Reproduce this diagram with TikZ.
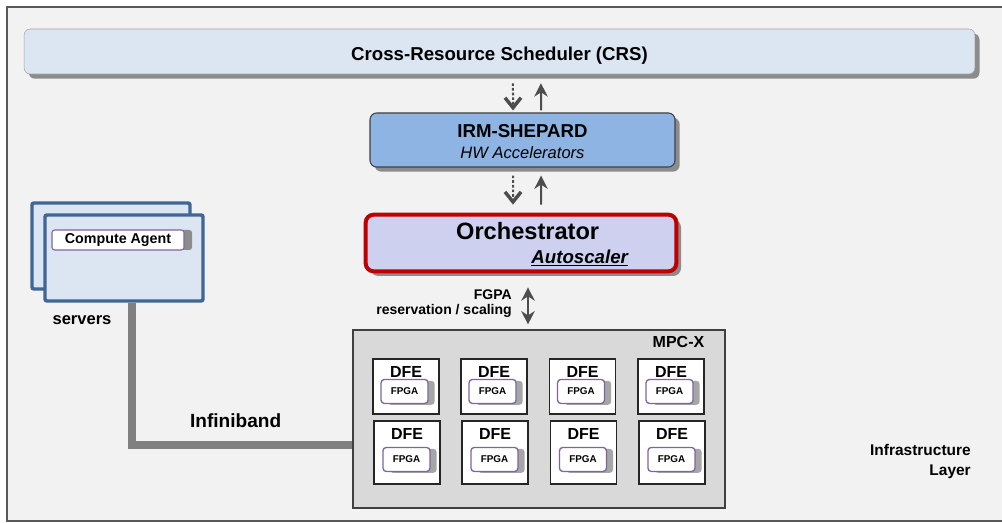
\documentclass[tikz,border=0pt]{standalone}
\usepackage{fontspec}
\setmainfont{Liberation Sans}
\usetikzlibrary{arrows.meta,shadows}
\definecolor{bggray}{HTML}{F2F2F2}
\definecolor{framegray}{HTML}{595959}
\definecolor{crsfill}{HTML}{DCE6F2}
\definecolor{crsline}{HTML}{A6A6A6}
\definecolor{shadowgray}{HTML}{8C8C8C}
\definecolor{irmfill}{HTML}{8DB4E2}
\definecolor{orchfill}{HTML}{CDD0EE}
\definecolor{orchred}{HTML}{C00000}
\definecolor{mpcfill}{HTML}{D9D9D9}
\definecolor{darkline}{HTML}{404040}
\definecolor{fpgapurple}{HTML}{8064A2}
\definecolor{srvblue}{HTML}{3F6695}
\definecolor{arrowgray}{HTML}{4D4D4D}
\definecolor{cablegray}{HTML}{808080}

\begin{document}
\begin{tikzpicture}[x=.75pt,y=-.75pt,
  lbl/.style={inner sep=0pt,font=\bfseries},
  shade/.style={drop shadow={shadow xshift=3.5pt,shadow yshift=-3.5pt,fill=shadowgray,opacity=1}},
  dnarr/.style={draw=arrowgray,line width=1.5pt,dash pattern=on 2pt off 1.5pt,
    -{Straight Barb[length=7.5pt,width=12pt,line width=2.6pt]}},
  uparr/.style={draw=arrowgray,line width=1.5pt,-{Stealth[length=10pt,width=10pt]}},
  dfebox/.style={draw=black!85,fill=white,line width=.8pt,minimum width=49.5pt},
  fpgabox/.style={draw=fpgapurple,fill=white,line width=1pt,rounded corners=2.5pt,
    minimum width=35.25pt,minimum height=18pt,inner sep=0pt,
    font=\bfseries\fontsize{7.4}{8}\selectfont,
    drop shadow={shadow xshift=5pt,shadow yshift=-1pt,fill=black!35,opacity=1}},
  srvbox/.style={draw=srvblue,fill=crsfill,line width=2.6pt,rounded corners=1.5pt,
    minimum width=118.5pt,minimum height=64.5pt}]
  \path[fill=white,use as bounding box] (0,0) rectangle (1002,523);
  % outer layer frame
  \fill[bggray] (7,7) rectangle (1002,521);
  \draw[framegray,line width=.9pt] (1002,7) -- (7,7) -- (7,521) -- (1002,521);

  % scheduler, shepard, orchestrator
  \node[draw=crsline,fill=crsfill,rounded corners=4.5pt,shade,
    minimum width=713pt,minimum height=33.75pt,text height=16pt,text depth=3pt,
    font=\bfseries\fontsize{14}{16}\selectfont] (crs) at (499.5,51.5)
    {Cross-Resource Scheduler (CRS)};
  \node[draw=darkline,fill=irmfill,rounded corners=5pt,shade,line width=.8pt,
    minimum width=228.75pt,minimum height=40.5pt] (irm) at (522.5,140) {};
  \node[lbl,font=\bfseries\fontsize{14}{16}\selectfont] (irmtitle)
    at ([yshift=6.75pt]irm.center) {IRM-SHEPARD};
  \node[lbl,font=\itshape\fontsize{12.4}{14}\selectfont] (irmsub)
    at ([yshift=-9.75pt]irm.center) {HW Accelerators};
  \node[draw=orchred,fill=orchfill,rounded corners=6pt,shade,line width=3pt,
    minimum width=233pt,minimum height=42.5pt] (orch) at (521,243) {};
  \node[lbl,font=\bfseries\fontsize{17.7}{20}\selectfont] (orchtitle)
    at ([xshift=5pt,yshift=9pt]orch.center) {Orchestrator};
  \node[lbl,font=\bfseries\itshape\fontsize{14}{16}\selectfont] (autosc)
    at ([xshift=44pt,yshift=-11pt]orch.center) {\underline{Autoscaler}};

  \draw[dnarr] ([xshift=10.1pt,yshift=-6.75pt]crs.south) -- ([xshift=-7.1pt,yshift=1.5pt]irm.north);
  \draw[uparr] ([xshift=13.9pt,yshift=1.5pt]irm.north) -- ([xshift=31.1pt,yshift=-6.75pt]crs.south);
  \draw[dnarr] ([xshift=-7.1pt,yshift=-6pt]irm.south) -- ([xshift=-6pt,yshift=6pt]orch.north);
  \draw[uparr] ([xshift=15pt,yshift=6pt]orch.north) -- ([xshift=13.9pt,yshift=-6pt]irm.south);

  % MPC-X with the DFEs
  \node[draw=darkline,fill=mpcfill,line width=.8pt,minimum width=279pt,
    minimum height=133.5pt] (mpcx) at (539,419) {};
  \node[lbl,anchor=north east,font=\bfseries\fontsize{12}{14}\selectfont] (mpcxlabel)
    at ([xshift=-15.75pt,yshift=-5.25pt]mpcx.north east) {MPC-X};
  \foreach \x [count=\i] in {406,494,582.5,671} {
    \node[dfebox,minimum height=41.25pt] (dfea\i) at (\x,386.5) {};
    \node[lbl,font=\bfseries\fontsize{12}{14}\selectfont] (dfelaba\i)
      at ([yshift=-10.5pt]dfea\i.north) {DFE};
    \node[fpgabox] (fpgaa\i) at ([xshift=-1.1pt,yshift=-24.75pt]dfea\i.north) {FPGA};
    \node[dfebox,minimum height=47.25pt] (dfeb\i) at (\x+1,452.5) {};
    \node[lbl,font=\bfseries\fontsize{12}{14}\selectfont] (dfelabb\i)
      at ([yshift=-10pt]dfeb\i.north) {DFE};
    \node[fpgabox] (fpgab\i) at ([xshift=-.4pt,yshift=-29.25pt]dfeb\i.north) {FPGA};
  }

  \draw[arrowgray,line width=1.8pt,{Stealth[length=10pt,width=10pt]}-{Stealth[length=10pt,width=10pt]}]
    ([xshift=5.25pt,yshift=-10.5pt]orch.south) -- ([xshift=-8.25pt,yshift=3.75pt]mpcx.north);
  \node[lbl,anchor=east,align=right,font=\bfseries\fontsize{10.5}{11.25}\selectfont] (fgpalabel)
    at (512,304) {FGPA\\reservation / scaling};

  % servers
  \node[srvbox] (srvback) at (111,246) {};
  \node[srvbox] (srvfront) at (124,258) {};
  \node[draw=fpgapurple,fill=white,line width=.8pt,rounded corners=2pt,
    minimum width=99pt,minimum height=15pt,inner sep=0pt,
    font=\bfseries\fontsize{10.7}{12}\selectfont,
    drop shadow={shadow xshift=6pt,shadow yshift=0pt,fill=black!45,opacity=1}]
    (agent) at (118,240) {Compute Agent};
  \node[lbl,font=\bfseries\fontsize{12.4}{14}\selectfont] (srvlabel)
    at ([xshift=-31.5pt,yshift=-12.75pt]srvfront.south) {servers};

  \draw[cablegray,line width=6.5pt] ([xshift=6pt]srvfront.south) |- ([yshift=-19.5pt]mpcx.west)
    node[lbl,pos=.735,yshift=18pt,text=black,font=\bfseries\fontsize{14.3}{16}\selectfont] (ibtext) {Infiniband};

  \node[lbl,anchor=east,align=right,font=\bfseries\fontsize{11.6}{15}\selectfont] (layer)
    at (971,462) {Infrastructure\\Layer};
\end{tikzpicture}
\end{document}
